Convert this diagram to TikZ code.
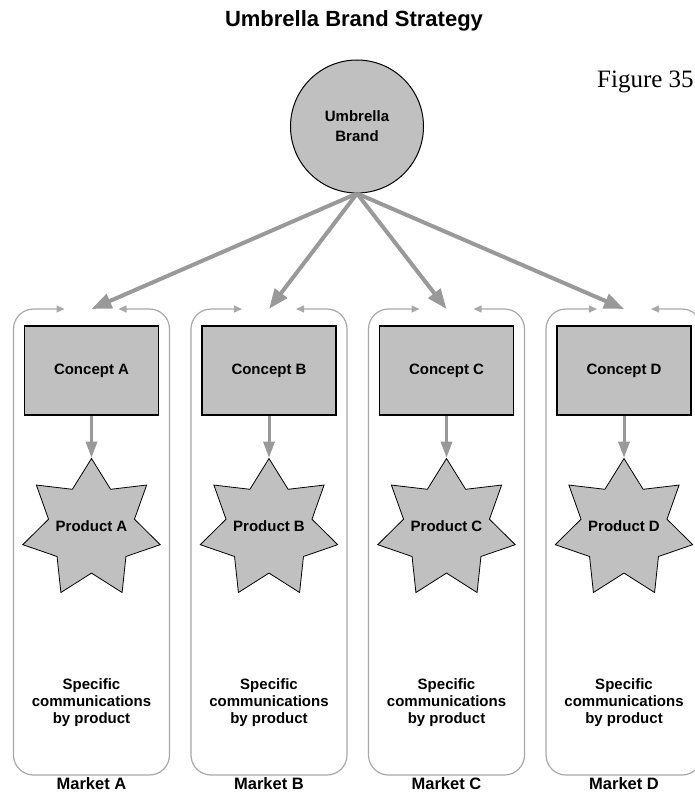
\documentclass[tikz,border=0pt]{standalone}
\usepackage{fontspec}
\setmainfont{Liberation Sans}
\newfontfamily\figfont{Liberation Serif}
\usetikzlibrary{arrows.meta,shapes.geometric}
\definecolor{fillgray}{HTML}{C0C0C0}
\definecolor{arrowgray}{HTML}{999999}
\definecolor{boxgray}{HTML}{A8A8A8}
\tikzset{
  lbl/.style={font=\bfseries\fontsize{15}{17}\selectfont, align=center, text=black},
  brandnode/.style={circle, draw=black, line width=1pt, fill=fillgray, minimum size=133pt, inner sep=0pt, lbl, font=\bfseries\fontsize{15}{20}\selectfont},
  conceptbox/.style={rectangle, draw=black, line width=1.2pt, fill=fillgray, minimum width=134pt, minimum height=89pt, lbl},
  productstar/.style={star, star points=7, star point ratio=1.6, minimum size=141pt, inner sep=0pt, draw=black, line width=0.8pt, fill=fillgray},
  bigarrow/.style={draw=arrowgray, line width=4pt, -{Triangle[length=20pt,width=15pt]}},
  midarrow/.style={draw=arrowgray, line width=3pt, -{Triangle[length=16pt,width=11pt]}},
  marketbox/.style={draw=boxgray, line width=1.2pt, rounded corners=20pt, {Triangle[length=8pt,width=7pt]}-{Triangle[length=8pt,width=7pt]}},
  marketlbl/.style={font=\bfseries\fontsize{16.5}{20}\selectfont, anchor=base},
}
\begin{document}
\begin{tikzpicture}[x=1pt,y=-1pt]
\useasboundingbox (0,0) rectangle (694,792);
\node[font=\bfseries\fontsize{22}{26}\selectfont, anchor=base] (title) at (354,27) {Umbrella Brand Strategy};
\node[font=\figfont\fontsize{25}{28}\selectfont, anchor=base west, inner sep=0pt] (fig) at (597,88) {Figure 35};
\node[brandnode] (brand) at (357,126.5) {Umbrella\\Brand};
\foreach \m/\cx in {A/91.5, B/269, C/446.5, D/624} {
  \coordinate (top\m) at (\cx,309);
  \draw[marketbox] (\cx-27,309) -| (\cx-78,775) -| (\cx+78,309) -- (\cx+27,309);
  \node[conceptbox] (concept\m) at (\cx,370.5) {Concept \m};
  \node[productstar] (product\m) at (\cx,529) {};
  \node[lbl] (plabel\m) at (\cx,526) {Product \m};
  \node[lbl] (comm\m) at (\cx,703) {Specific\\communications\\by product};
  \node[marketlbl] (market\m) at (\cx,789) {Market \m};
  \draw[midarrow] (concept\m) -- (product\m);
  \draw[bigarrow] (brand.south) -- (top\m);
}
\end{tikzpicture}
\end{document}
